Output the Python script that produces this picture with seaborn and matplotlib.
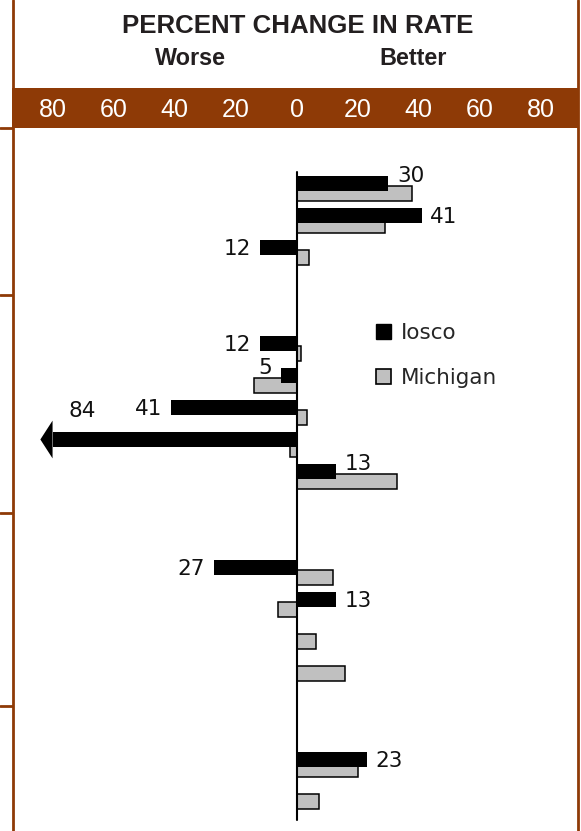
import numpy as np
import pandas as pd
import matplotlib.pyplot as plt
import seaborn as sns
from matplotlib.patches import Patch
from matplotlib.lines import Line2D
from matplotlib.transforms import blended_transform_factory

# rows of the chart (slots, gaps between groups)
rows = [0, 1, 2, 5, 6, 7, 8, 9, 12, 13, 14, 15, 18, 19]
iosco = [30, 41, -12, -12, -5, -41, -84, 13, -27, 13, np.nan, np.nan, 23, np.nan]
michigan = [38, 29, 4, 1.5, -14, 3.5, -2, 33, 12, -6, 6.5, 16, 20, 7.5]
ticks = [-80, -60, -40, -20, 0, 20, 40, 60, 80]
section_breaks = [3.48, 10.3, 16.33]

BROWN = '#8E3A06'
GRAY = '#C0C0C0'

sns.set_style('white')
plt.rcParams['font.family'] = ['DejaVu Sans']

df = pd.DataFrame({'row': rows, 'iosco': iosco, 'michigan': michigan})
df['mich_row'] = df['row'] + 0.3125
head = 4
off_scale = df['iosco'].abs() > 80
df['iosco_bar'] = np.where(off_scale, df['iosco'] - np.sign(df['iosco']) * head, df['iosco'])

fig = plt.figure(figsize=(5.81, 8.31), dpi=100)
ax = fig.add_axes([12/581, 0, 566/581, 703/831])
band = fig.add_axes([12/581, 703/831, 566/581, 40/831], sharex=ax)

sns.barplot(data=df, x='michigan', y='mich_row', orient='h', native_scale=True,
            width=0.47, color=GRAY, saturation=1, edgecolor='black', linewidth=1.1,
            errorbar=None, ax=ax)
sns.barplot(data=df, x='iosco_bar', y='row', orient='h', native_scale=True,
            width=0.47, color='black', saturation=1, linewidth=0,
            errorbar=None, ax=ax)

# arrow heads for values off the scale
for _, r in df[off_scale].iterrows():
    base = r['iosco_bar']
    ax.fill([base, base, r['iosco']], [r['row'] - 0.59, r['row'] + 0.59, r['row']],
            color='black', lw=0)

# value labels for Iosco
for _, r in df.dropna(subset=['iosco']).iterrows():
    v, m, y = r['iosco'], r['michigan'], r['row']
    s = np.sign(v)
    if abs(v) > 80:
        ax.text(v + 13.8, y - 0.95 + 0.245, f'{abs(v):.0f}', ha='center', va='baseline',
                fontsize=15.5, color='#111111')
        continue
    dy = -0.3 if (np.sign(m) == s and abs(m) > abs(v)) else 0
    ax.text(v + s * 2.9, y + dy + 0.245, f'{abs(v):.0f}', ha='left' if s > 0 else 'right',
            va='baseline', fontsize=15.5, color='#111111')

# zero line
ax.plot([0, 0], [rows[0] - 0.36, rows[-1] + 0.89], color='black', lw=1.5)

ax.set_xlim(-93.3, 92.3)
ax.set_ylim((831 - 183.5) / 32, (128 - 183.5) / 32)
ax.set(xlabel='', ylabel='', xticks=[], yticks=[])
sns.despine(ax=ax, left=True, bottom=True)

# section ticks on the left border
tr = blended_transform_factory(ax.transAxes, ax.transData)
for b in section_breaks:
    ax.plot([-12/566, 0], [b, b], color=BROWN, lw=2, transform=tr, clip_on=False)
ax.plot([-12/566, 0], [1, 1], color=BROWN, lw=2, transform=ax.transAxes, clip_on=False)

# brown scale band
band.set_facecolor(BROWN)
band.set(xticks=[], yticks=[], xlabel='', ylabel='')
for sp in band.spines.values():
    sp.set_visible(False)
btr = blended_transform_factory(band.transData, band.transAxes)
for t in ticks:
    band.text(t, 0.27, str(abs(t)), transform=btr, ha='center', va='baseline',
              fontsize=18, color='white', family=['Liberation Sans', 'DejaVu Sans'])

# borders
fig.add_artist(Line2D([12.5/581, 12.5/581], [0, 1], color=BROWN, lw=2))
fig.add_artist(Line2D([578/581, 578/581], [0, 1], color=BROWN, lw=2))

fig.text(298/581, 1 - 33.3/831, 'PERCENT CHANGE IN RATE', ha='center', va='baseline',
         fontsize=18.6, fontweight='bold', color='#231F20', family=['Liberation Sans', 'DejaVu Sans'])
fig.text(190/581, 1 - 65/831, 'Worse', ha='center', va='baseline', fontsize=16.8,
         fontweight='bold', color='#231F20', family=['Liberation Sans', 'DejaVu Sans'])
fig.text(413/581, 1 - 65/831, 'Better', ha='center', va='baseline', fontsize=16.8,
         fontweight='bold', color='#231F20', family=['Liberation Sans', 'DejaVu Sans'])

ax.legend(handles=[Patch(facecolor='black', edgecolor='black', label='Iosco'),
                   Patch(facecolor=GRAY, edgecolor='black', lw=1.2, label='Michigan')],
          loc='upper left', bbox_to_anchor=(376/581, 1 - 323/831), bbox_transform=fig.transFigure,
          frameon=False, fontsize=15.5, handlelength=0.7, handleheight=0.7,
          handletextpad=0.45, labelspacing=1.17, borderpad=0, borderaxespad=0)

fig.savefig('out.png', dpi=100)
